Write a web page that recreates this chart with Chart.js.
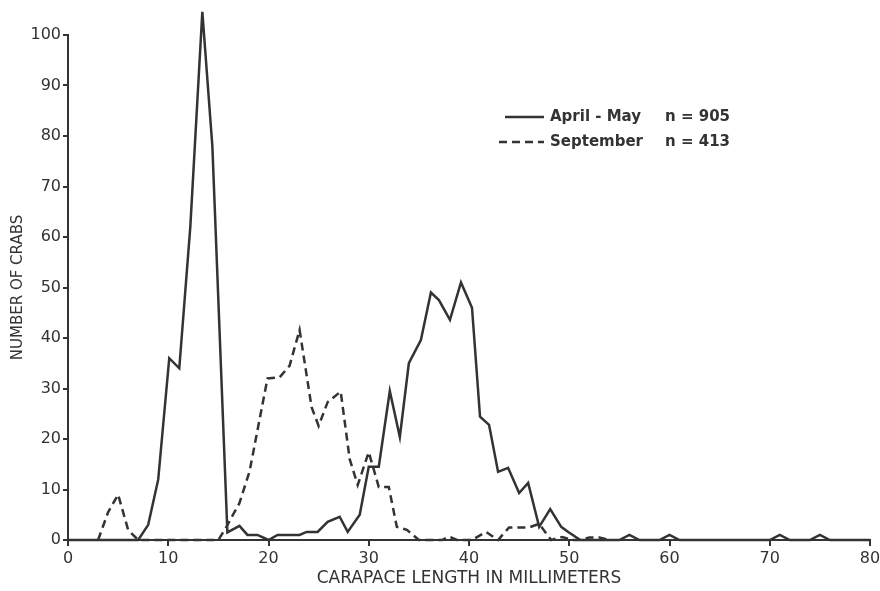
<!DOCTYPE html>
<html>
<head>
<meta charset="utf-8">
<title>Carapace length frequency</title>
<script src="https://cdn.jsdelivr.net/npm/chart.js@4.4.0/dist/chart.umd.min.js"></script>
<style>
  body { margin: 0; background: #fff; }
  canvas { display: block; }
</style>
</head>
<body>
<canvas id="crab-chart" width="880" height="591"></canvas>
<script>
// values (carapace length in mm, number of crabs)
const aprilMayLength = [0, 7, 8, 9, 10.1, 11.1, 12.2, 13.4, 14.4, 15.9, 17.1, 17.9, 18.9, 20, 20.9, 23.1, 23.8, 24.9, 25.9, 27.1, 27.9, 29.1, 30, 31, 32.1, 33.1, 34, 35.2, 36.2, 37, 38.1, 39.2, 40.3, 41.1, 42, 42.9, 43.9, 45, 45.9, 47, 48.1, 49.2, 49.9, 51.1, 55, 56, 57, 59, 60, 61, 70, 71, 72, 74, 75, 76, 80];
const aprilMayCount = [0, 0, 3, 12, 36, 34, 62, 104.6, 78, 1.5, 2.8, 1, 1, 0, 1, 1, 1.6, 1.6, 3.6, 4.6, 1.6, 5, 14.5, 14.5, 29.5, 20.4, 35, 39.6, 49, 47.5, 43.6, 51, 46, 24.4, 22.8, 13.5, 14.3, 9.3, 11.3, 2.6, 6.1, 2.6, 1.6, 0, 0, 1, 0, 0, 1, 0, 0, 1, 0, 0, 1, 0, 0];

const septemberLength = [3, 4, 5, 6, 7, 15, 15.8, 17.1, 18.1, 19.9, 21.1, 22.1, 23.1, 24.3, 25, 25.9, 27.2, 28.1, 28.9, 30, 31, 32, 32.8, 33.8, 35, 37.3, 38, 38.8, 40.3, 41.7, 42.9, 44, 46, 47, 48.2, 49.3, 50.3, 51, 52, 53, 54];
const septemberCount = [0, 5.5, 9, 2, 0, 0, 2.6, 7.3, 13.5, 32, 32.2, 34.5, 41.6, 26.3, 22.6, 27.3, 29.4, 16, 10.9, 17.4, 10.5, 10.5, 2.6, 2, 0, 0, 0.7, 0, 0, 1.6, 0, 2.5, 2.5, 3.2, 0, 0.6, 0, 0, 0.5, 0.5, 0];

const seriesLabels = ['April - May', 'September'];
const sampleSizes = ['n = 905', 'n = 413'];

const ink = '#333';
const font = '"DejaVu Sans", sans-serif';

function toPoints(xs, ys) {
    return xs.map((x, i) => ({ x: x, y: ys[i] }));
}

// legend drawn as a little key inside the plot, like the original figure
const crabLegend = {
    id: 'crabLegend',
    afterDatasetsDraw(chart) {
        const ctx = chart.ctx;
        ctx.save();
        chart.data.datasets.forEach((ds, i) => {
            const y = 117 + i * 25;
            ctx.strokeStyle = ink;
            ctx.lineWidth = 2.5;
            ctx.setLineDash(ds.borderDash || []);
            ctx.beginPath();
            ctx.moveTo(i === 0 ? 505 : 499, y);
            ctx.lineTo(544, y);
            ctx.stroke();
            ctx.setLineDash([]);
            ctx.fillStyle = ink;
            ctx.font = 'bold 15px ' + font;
            ctx.textBaseline = 'middle';
            ctx.textAlign = 'left';
            ctx.fillText(ds.label, 550, y);
            ctx.fillText(sampleSizes[i], 665, y);
        });
        ctx.restore();
    }
};

const config = {
    type: 'scatter',
    data: {
        datasets: [{
            label: seriesLabels[0],
            data: toPoints(aprilMayLength, aprilMayCount),
            showLine: true,
            borderColor: ink,
            borderWidth: 2.5,
            pointRadius: 0,
            clip: false
        }, {
            label: seriesLabels[1],
            data: toPoints(septemberLength, septemberCount),
            showLine: true,
            borderColor: ink,
            borderWidth: 2.5,
            borderDash: [8, 5],
            pointRadius: 0,
            clip: false
        }]
    },
    options: {
        responsive: false,
        animation: false,
        devicePixelRatio: 1,
        layout: { padding: { top: 35, right: 10, bottom: 0, left: 0 } },
        plugins: {
            legend: { display: false },
            tooltip: { enabled: false }
        },
        scales: {
            x: {
                type: 'linear',
                min: 0,
                max: 80,
                ticks: { stepSize: 10, color: ink, font: { family: font, size: 16 }, padding: 3 },
                grid: { drawOnChartArea: false, tickLength: 6, color: ink, lineWidth: 2 },
                border: { color: ink, width: 2 },
                title: {
                    display: true,
                    text: 'CARAPACE LENGTH IN MILLIMETERS',
                    color: ink,
                    font: { family: font, size: 17 },
                    padding: { top: 0, bottom: 2 }
                },
                afterFit: (scale) => {
                    scale.height = 51;
                    scale.paddingRight = 0;
                }
            },
            y: {
                min: 0,
                max: 100,
                ticks: { stepSize: 10, color: ink, font: { family: font, size: 16 }, padding: 2 },
                grid: { drawOnChartArea: false, tickLength: 5, color: ink, lineWidth: 2 },
                border: { color: ink, width: 2 },
                title: {
                    display: true,
                    text: 'NUMBER OF CRABS',
                    color: ink,
                    font: { family: font, size: 15 },
                    padding: { top: 9, bottom: 0 }
                },
                afterFit: (scale) => { scale.width = 68; }
            }
        }
    },
    plugins: [crabLegend]
};

const crabChart = new Chart(document.getElementById('crab-chart').getContext('2d'), config);
</script>
</body>
</html>
